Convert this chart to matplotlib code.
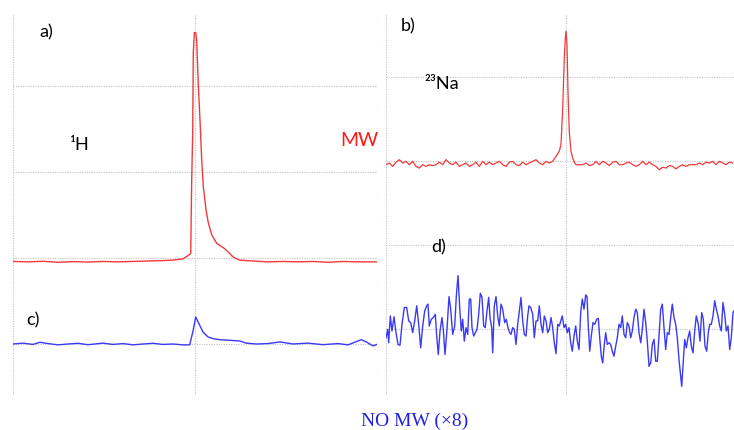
import matplotlib.pyplot as plt

W, H = 734, 430

# a) 1H spectrum with MW (channel, amplitude in grid units)
a_ch = [0, 15, 30, 45, 60, 75, 90, 105, 120, 135, 150, 160, 170, 175.3, 177.7,
        178.7, 179.7, 180.3, 181.3, 182.7, 183.7, 185.3, 187, 188.7, 190.3, 193,
        195.3, 198.7, 203.7, 210.3, 215.3, 220.3, 223.7, 227, 240, 255, 270, 285,
        300, 315, 330, 345, 364]
a_amp = [0.96, 0.955, 0.962, 0.95, 0.958, 0.953, 0.96, 0.955, 0.96, 0.965, 0.97,
         0.975, 0.99, 1.03, 1.05, 1.91, 2.45, 3.38, 3.62, 3.62, 3.53, 3.01, 2.60,
         2.14, 1.83, 1.56, 1.41, 1.27, 1.17, 1.12, 1.07, 1.01, 0.99, 0.975, 0.965,
         0.955, 0.96, 0.955, 0.96, 0.95, 0.96, 0.955, 0.955]

# c) 1H spectrum without MW (x8)
c_ch = [0, 10, 20, 27, 35, 45, 55, 65, 75, 90, 100, 110, 120, 130, 140, 150, 160,
        170, 176.7, 180, 182.7, 186.7, 190, 195, 200, 206.7, 216.7, 226.7, 233.3,
        243.3, 255, 267, 280, 295, 310, 325, 335, 348.3, 353.3, 360, 365]
c_amp = [0.0, 0.01, -0.005, 0.02, 0.005, -0.01, 0.0, 0.008, -0.008, 0.01, -0.005,
         0.005, -0.01, 0.0, 0.008, -0.005, 0.0, -0.01, -0.01, 0.15, 0.314, 0.218,
         0.14, 0.082, 0.062, 0.05, 0.043, 0.035, 0.01, 0.0, 0.005, 0.024, 0.0,
         0.01, -0.008, 0.005, -0.01, 0.05, 0.024, -0.022, 0.0]

# b) 23Na spectrum with MW
b_ch = [0, 3.3, 6.7, 10, 13.3, 16.7, 20, 23.3, 26.7, 30, 33.3, 36.7, 40, 43.3,
        46.7, 50, 53.3, 56.7, 60, 63.3, 66.7, 70, 73.3, 76.7, 80, 83.3, 86.7, 90,
        93.3, 96.7, 100, 103.3, 106.7, 110, 113.3, 116.7, 120, 123.3, 126.7, 130,
        133.3, 136.7, 140, 143.3, 146.7, 150, 153.3, 156.7, 160, 163.3, 166.7,
        170, 173.3, 175, 176.7, 178.3, 179.3, 180, 181, 182, 183.3, 185, 186.7,
        188.3, 190, 193.3, 196.7, 200, 203.3, 206.7, 210, 213.3, 216.7, 220,
        223.3, 226.7, 230, 233.3, 236.7, 240, 243.3, 246.7, 250, 253.3, 256.7,
        260, 263.3, 266.7, 270, 273.3, 276.7, 280, 283.3, 286.7, 290, 293.3,
        296.7, 300, 303.3, 306.7, 310, 313.3, 316.7, 320, 323.3, 326.7, 330,
        333.3, 336.7, 340, 343.3, 346.7]
b_amp = [1.95, 1.97, 1.93, 1.98, 2.01, 1.97, 1.99, 1.95, 1.99, 1.93, 1.91, 1.95,
         1.93, 1.95, 1.94, 1.95, 1.98, 1.95, 2.01, 1.97, 1.95, 1.98, 1.93, 1.95,
         1.97, 1.93, 1.95, 1.98, 1.93, 1.99, 1.95, 1.98, 1.95, 1.97, 1.99, 1.95,
         1.93, 1.98, 1.99, 1.95, 1.94, 1.98, 1.95, 1.97, 1.99, 2.01, 1.97, 1.95,
         1.99, 1.97, 1.99, 2.05, 2.11, 2.19, 2.62, 3.22, 3.45, 3.54, 3.38, 2.82,
         2.34, 2.11, 2.03, 1.98, 1.95, 1.95, 1.95, 1.97, 1.94, 1.95, 1.99, 1.95,
         1.99, 1.97, 1.94, 1.98, 1.99, 1.95, 1.95, 1.97, 1.98, 1.95, 1.93, 1.95,
         1.99, 1.95, 1.98, 1.95, 1.93, 1.89, 1.92, 1.91, 1.94, 1.93, 1.90, 1.93,
         1.95, 1.93, 1.95, 1.95, 1.95, 1.97, 1.95, 1.98, 1.97, 1.99, 1.95, 1.99,
         1.97, 1.95, 1.98, 1.97]

# d) 23Na spectrum without MW (x8)
d_ch = [0, 1.7, 2.7, 4.3, 6, 8, 10, 12, 14, 16, 18.3, 20.7, 22.7, 24.7, 26.7,
        28.7, 30.7, 32.7, 34.7, 36.7, 38.7, 40.7, 42, 43.3, 45.3, 47.3, 49.3,
        50.7, 52.3, 54, 56, 57.3, 59, 61, 63, 64.7, 66.7, 68.7, 70.3, 72, 73.7,
        75.3, 76.7, 78.3, 80, 81.7, 83.3, 84.7, 86, 87.7, 89.3, 91, 92.7, 94.3,
        96, 97.7, 99.3, 101, 102.7, 104, 105.7, 106.7, 108.3, 110, 111.7, 113.3,
        115, 116.7, 118.7, 120.3, 122, 123.7, 125, 126.7, 128.3, 130, 131.7,
        133.3, 135, 136.7, 138.3, 140, 141.7, 143, 144.7, 146.7, 148.3, 150,
        151.7, 153.3, 155, 156.7, 158.3, 160, 161.7, 163.3, 165, 166.7, 168.3,
        170, 171.7, 173.3, 176.3, 178, 179.7, 181.3, 183, 184.7, 186.3, 188,
        189.7, 191.3, 193, 194.7, 196.3, 198, 199.7, 201, 202.3, 203.7, 205.3,
        207, 208.7, 210.7, 212.3, 213.7, 215.3, 216.7, 218.3, 219.7, 221.3, 223,
        224.7, 226.3, 228, 229.7, 231.3, 233, 234.7, 236.3, 238, 239.7, 241.3,
        243, 244.7, 246.3, 248, 249.7, 251.3, 253, 254.7, 256.3, 258, 259.7,
        261.3, 263, 264.7, 266.3, 268, 269.7, 271.3, 273, 274.7, 276.3, 278,
        279.7, 281.3, 283, 284.7, 286.3, 288, 289.7, 291.3, 293, 294.7, 295.7,
        297, 298.7, 300.3, 302, 303.7, 305.3, 307, 308.7, 310.3, 312.3, 314,
        315.7, 317.3, 319, 320.7, 322.3, 323.7, 325.3, 327, 328.7, 330.3, 332,
        333.7, 335.3, 337, 338.7, 340.3, 342, 343.7, 345.3, 347, 348]
d_amp = [-0.11, -0.01, -0.17, 0.15, -0.03, 0.14, -0.05, -0.19, -0.20, 0.05, 0.25,
         0.25, 0.09, 0.07, -0.05, 0.09, 0.27, 0.05, -0.23, 0.03, 0.21, 0.27, 0.29,
         0.03, 0.11, 0.13, 0.17, -0.09, -0.31, -0.03, 0.13, -0.01, -0.31, -0.01,
         0.38, 0.23, -0.07, 0.03, 0.38, 0.63, 0.25, -0.03, 0.11, -0.15, 0.01,
         -0.07, 0.35, 0.35, 0.01, -0.09, -0.05, -0.01, 0.17, 0.42, 0.37, 0.03,
         0.01, 0.21, 0.37, 0.13, 0.01, -0.29, 0.27, 0.38, 0.15, 0.03, 0.29, 0.23,
         0.07, 0.11, 0.01, -0.05, -0.07, 0.01, -0.01, -0.19, 0.05, 0.21, 0.37,
         0.09, -0.07, -0.09, 0.15, 0.27, 0.25, 0.17, -0.11, 0.09, 0.09, 0.27,
         0.05, -0.05, 0.15, 0.09, -0.05, -0.01, 0.13, 0.01, -0.17, -0.30, 0.05,
         0.03, 0.15, 0.01, 0.05, -0.05, 0.01, -0.17, -0.27, -0.09, 0.03, -0.15,
         -0.25, 0.19, 0.35, 0.23, 0.40, 0.38, 0.03, -0.27, -0.09, 0.07, 0.05,
         0.11, 0.12, -0.11, -0.33, -0.41, -0.19, -0.05, -0.19, -0.17, -0.19,
         -0.27, -0.33, -0.21, -0.11, 0.05, 0.01, 0.15, -0.07, -0.11, 0.07, 0.03,
         -0.11, -0.03, 0.13, 0.23, 0.19, -0.05, -0.17, -0.01, 0.23, 0.07, -0.15,
         -0.45, -0.41, -0.19, -0.13, -0.39, -0.39, -0.09, 0.23, 0.29, 0.01,
         -0.25, -0.05, -0.07, 0.13, 0.29, 0.13, 0.05, -0.11, -0.37, -0.57, -0.69,
         -0.45, -0.13, -0.23, -0.11, -0.03, -0.21, -0.29, -0.03, 0.15, 0.05,
         -0.15, 0.19, 0.11, -0.21, -0.27, -0.05, 0.05, 0.05, 0.15, 0.33, 0.23,
         0.15, 0.03, -0.03, 0.31, 0.17, -0.03, 0.03, -0.25, -0.11, 0.19, 0.21]

RED = "#f23a3a"
BLUE = "#3a3af5"
GRID = "#c0c0c0"
LABEL_FONT = ["Lato", "DejaVu Sans"]


def px_axes(fig, x0, y0, x1, y1):
    return fig.add_axes([x0 / W, 1 - y1 / H, (x1 - x0) / W, (y1 - y0) / H])


def style_panel(ax, xgrid, ygrid, xlim, ylim):
    ax.set_xlim(*xlim)
    ax.set_ylim(*ylim)
    for x in xgrid:
        ax.axvline(x, color=GRID, lw=0.8, ls=(0, (1, 1.2)), zorder=0)
    for y in ygrid:
        ax.axhline(y, color=GRID, lw=0.8, ls=(0, (1, 1.2)), zorder=0)
    ax.set_xticks([])
    ax.set_yticks([])
    for s in ax.spines.values():
        s.set_visible(False)
    ax.patch.set_alpha(0)


def label(fig, x, y, s, size=13, color="black", family=LABEL_FONT, ha="left"):
    fig.text(x / W, 1 - y / H, s, fontsize=size, color=color, family=family,
             ha=ha, va="center")


fig = plt.figure(figsize=(W / 100, H / 100), dpi=100)

# left panel: 1H
ax_l = px_axes(fig, 13, 14, 377, 395)
style_panel(ax_l, [0, 182, 364], [0, 1, 2, 3], (0, 364), (-51 / 86, 330 / 86))
ax_l.plot(a_ch, a_amp, color=RED, lw=1.0)
ax_l.plot(c_ch, c_amp, color=BLUE, lw=1.0)

# right panel: 23Na
ax_r = px_axes(fig, 386, 14, 734, 395)
style_panel(ax_r, [0, 180], [0, 1, 2, 3], (0, 348), (-66.5 / 84, 314.5 / 84))
ax_r.plot(b_ch, b_amp, color=RED, lw=0.9)
ax_r.plot(d_ch, d_amp, color=BLUE, lw=1.0)

label(fig, 39, 32, "a)")
label(fig, 69, 145, "¹H")
label(fig, 378, 140, "MW", size=14, color="#ff1a1a", ha="right")
label(fig, 401, 26, "b)")
label(fig, 424, 84, "²³Na")
label(fig, 26, 320, "c)")
label(fig, 431, 247, "d)")
label(fig, 415, 421, "NO MW (×8)", size=14, color="#2222e6",
      family=["Liberation Serif", "DejaVu Serif"], ha="center")

fig.savefig("out.png", dpi=100)
